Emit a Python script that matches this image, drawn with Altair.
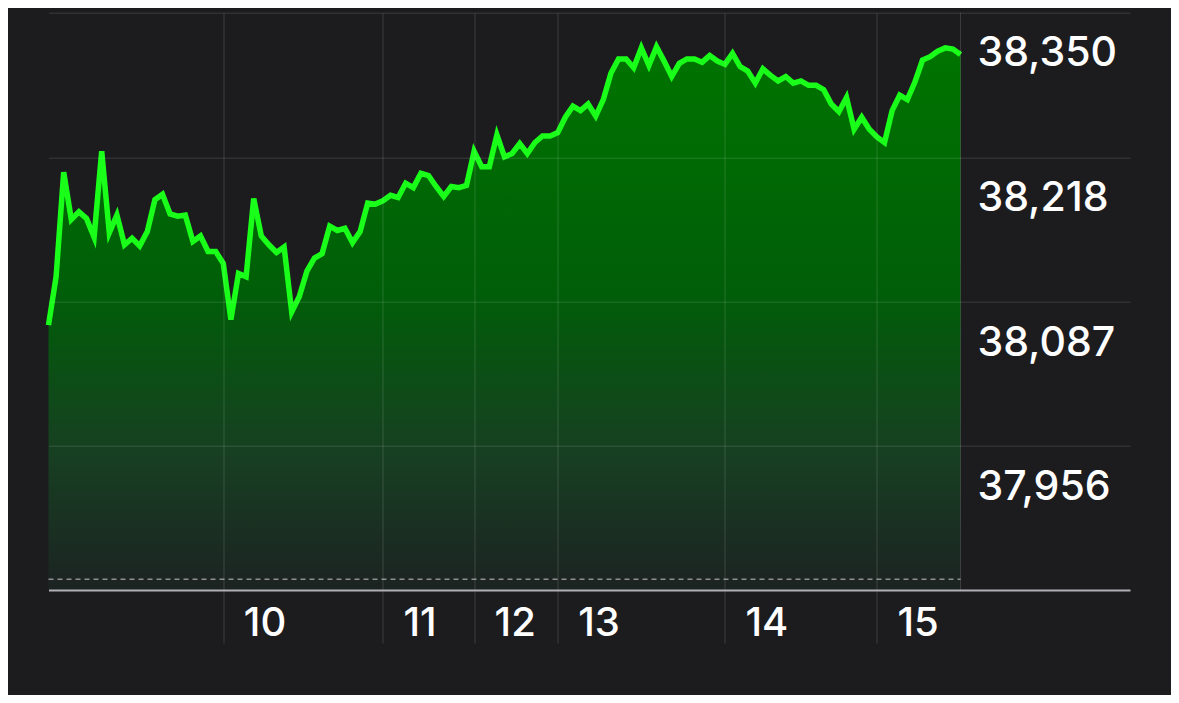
import altair as alt
import pandas as pd

# Index values (one sample per step, 121 samples)
values = [
    38066, 38110, 38205, 38162, 38169, 38163, 38146, 38224, 38150, 38166,
    38139, 38145, 38138, 38151, 38180, 38185, 38167, 38165, 38166, 38142,
    38147, 38133, 38133, 38122, 38071, 38113, 38110, 38181, 38147, 38139,
    38132, 38137, 38078, 38092, 38115, 38127, 38131, 38156, 38152, 38154,
    38141, 38151, 38177, 38176, 38179, 38184, 38182, 38195, 38191, 38204,
    38202, 38192, 38183, 38192, 38191, 38193, 38224, 38210, 38210, 38239,
    38219, 38222, 38231, 38222, 38232, 38238, 38238, 38241, 38255, 38265,
    38261, 38267, 38256, 38271, 38295, 38308, 38308, 38300, 38318, 38302,
    38319, 38306, 38292, 38304, 38308, 38308, 38305, 38311, 38306, 38303,
    38313, 38301, 38297, 38286, 38299, 38293, 38288, 38292, 38286, 38288,
    38284, 38284, 38280, 38267, 38260, 38273, 38244, 38255, 38244, 38237,
    38232, 38261, 38275, 38271, 38287, 38307, 38310, 38315, 38318, 38317,
    38312,
]
sample = list(range(len(values)))

y_ticks = [38350, 38218, 38087, 37956]
hour_pos = [23, 44, 56, 67, 89, 109]
hour_labels = ["10", "11", "12", "13", "14", "15"]

y_domain = [37777, 38350]
x_domain = [0, 142.3]
axis_value = 37825      # solid bottom line / area baseline
ref_value = 37835       # dashed reference line

BG = "#1c1c1f"
GRID = "#ffffff"
FONT = "Inter"

df = pd.DataFrame({"i": sample, "v": values})

label_expr = "".join(
    f"datum.value == {p} ? '{l}' : " for p, l in zip(hour_pos, hour_labels)
) + "''"

x_axis = alt.Axis(
    values=hour_pos, labelExpr=label_expr, title=None,
    grid=True, gridColor=GRID, gridOpacity=0.14, gridWidth=1,
    domain=True, domainColor="#b0b0b5", domainWidth=2,
    ticks=False, tickSize=0,
    labelColor="#ffffff", labelFont=FONT, labelFontSize=40, labelFontWeight=500,
    labelAlign="left", labelBaseline="alphabetic",
    labelOffset=20, labelPadding=45,
    labelFlush=False, labelOverlap=False,
    offset=-53, zindex=1,
)
y_axis = alt.Axis(
    orient="right", values=y_ticks, format=",d", title=None,
    grid=True, gridColor=GRID, gridOpacity=0.14, gridWidth=1,
    domain=False, ticks=False, tickSize=0,
    labelColor="#ffffff", labelFont=FONT, labelFontSize=41, labelFontWeight=500,
    labelAlign="left", labelBaseline="alphabetic",
    labelOffset=53, labelPadding=16,
    labelFlush=False, labelOverlap=False,
    offset=-169, zindex=1,
)

x_enc = alt.X("i:Q", scale=alt.Scale(domain=x_domain, nice=False, zero=False), axis=x_axis)
y_enc = alt.Y("v:Q", scale=alt.Scale(domain=y_domain, nice=False, zero=False), axis=y_axis)

gradient = alt.Gradient(
    gradient="linear", x1=0, y1=0, x2=0, y2=1,
    stops=[
        alt.GradientStop(color="#007400", offset=0),
        alt.GradientStop(color="#005e08", offset=0.45),
        alt.GradientStop(color="#173f22", offset=0.75),
        alt.GradientStop(color="#1c2322", offset=1),
    ],
)

area = alt.Chart(df).mark_area(color=gradient, line=False).encode(
    x=x_enc, y=y_enc, y2=alt.datum(axis_value)
)

line = alt.Chart(df).mark_line(
    color="#19ff19", strokeWidth=5.5, strokeJoin="miter", strokeMiterLimit=6
).encode(x="i:Q", y="v:Q")

ref_df = pd.DataFrame({"start": [sample[0]], "end": [sample[-1]], "v": [ref_value]})
ref_rule = alt.Chart(ref_df).mark_rule(
    color="#8e8e93", strokeWidth=1.5, strokeDash=[5, 4]
).encode(x="start:Q", x2="end:Q", y="v:Q")

end_df = pd.DataFrame({"i": [sample[-1]], "top": [y_ticks[0]], "bottom": [axis_value]})
end_rule = alt.Chart(end_df).mark_rule(
    color=GRID, opacity=0.14, strokeWidth=1
).encode(x="i:Q", y="top:Q", y2="bottom:Q")

chart = alt.layer(area, ref_rule, line, end_rule).properties(
    width=1081.5, height=630.3,
    autosize=alt.AutoSizeParams(type="none"),
    padding={"left": 40.5, "top": 4.7, "right": 41, "bottom": 52},
    background=BG,
).configure_view(stroke=None)

chart.save("out.html", embed_options={"renderer": "svg", "actions": False})
